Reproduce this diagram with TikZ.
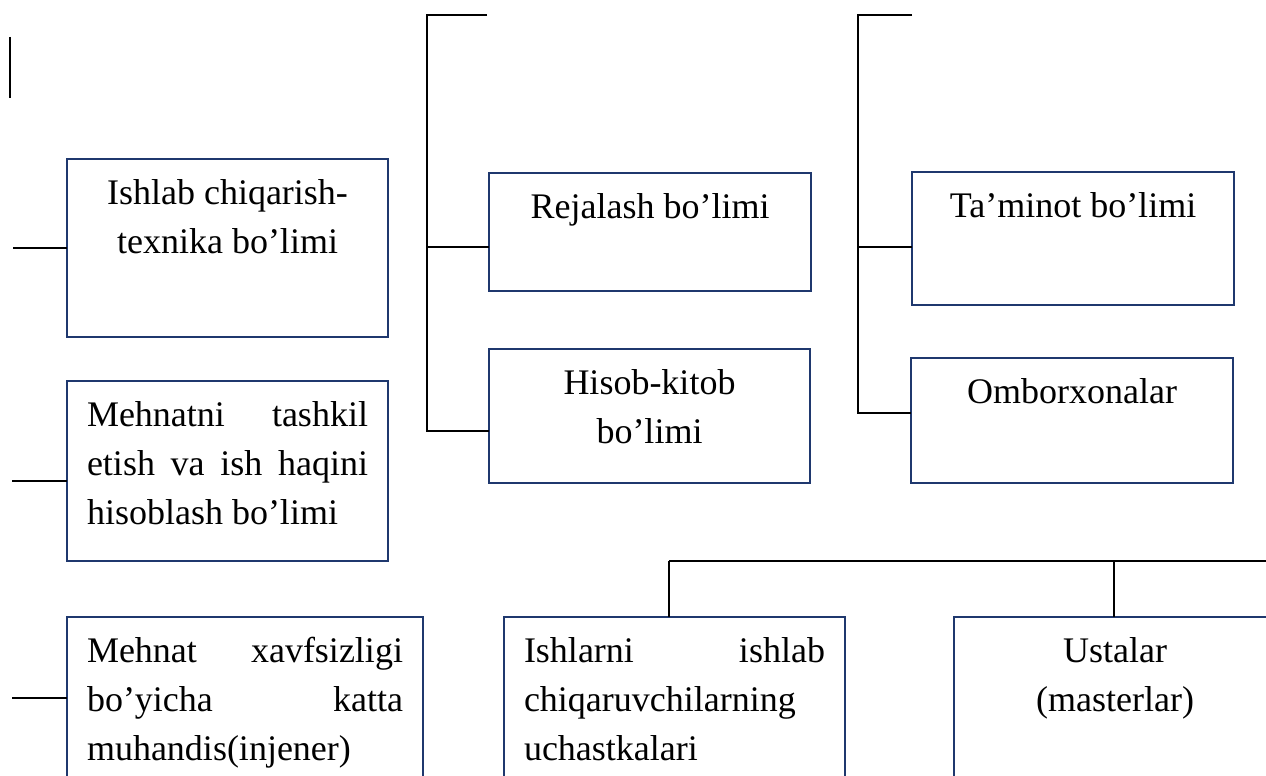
\documentclass[tikz,border=0pt]{standalone}
\usepackage{fontspec}
\setmainfont{Liberation Serif}
\definecolor{unitblue}{RGB}{31,56,110}
% box text: [alignment]{height}{width}{text}
\newcommand{\unittext}[4][\centering]{\parbox[t][#2][t]{#3}{#1\hyphenpenalty=10000 \rule{0pt}{45pt}#4}}
\tikzset{
	unit/.style={draw=unitblue, line width=1.4pt, anchor=north west, inner xsep=20pt, inner ysep=0pt, outer sep=0pt, font=\fontsize{36}{49}\selectfont},
	link/.style={draw=black, line width=1.5pt}
}
\begin{document}
\begin{tikzpicture}[x=1pt, y=-1pt]
	\useasboundingbox (0,0) rectangle (1266,776);
	\clip (0,0) rectangle (1266,776);
	% left column
	\node[unit] (prod) at (67,159) {\unittext{178pt}{281pt}{Ishlab chiqarish-\\texnika bo’limi}};
	\node[unit] (mehnat) at (67,381) {\unittext[]{180pt}{281pt}{Mehnatni tashkil\linebreak etish va ish haqini\linebreak hisoblash bo’limi}};
	\node[unit] (xavf) at (67,617) {\unittext[]{180pt}{316pt}{Mehnat xavfsizligi\linebreak bo’yicha katta\linebreak muhandis(injener)}};
	% middle column
	\node[unit] (reja) at (489,173) {\unittext{118pt}{282pt}{Rejalash bo’limi}};
	\node[unit] (hisob) at (489,349) {\unittext{134pt}{281pt}{Hisob-kitob\\bo’limi}};
	% right column
	\node[unit] (taminot) at (912,172) {\unittext{133pt}{282pt}{Ta’minot bo’limi}};
	\node[unit] (ombor) at (911,358) {\unittext{125pt}{282pt}{Omborxonalar}};
	% bottom row
	\node[unit] (uchast) at (504,617) {\unittext[]{180pt}{301pt}{Ishlarni ishlab\linebreak chiqaruvchilarning\\uchastkalari}};
	\node[unit] (usta) at (954,617) {\unittext{180pt}{282pt}{Ustalar\\(masterlar)}};
	% lone bar and left stubs
	\coordinate (barT) at (10,37);
	\coordinate (barB) at (10,98);
	\coordinate (lA) at (13,248);
	\coordinate (lB) at (12,481);
	\coordinate (lC) at (12,698);
	\draw[link] (barT) -- (barB);
	\draw[link] (lA) -- (prod.west);
	\draw[link] (lB) -- (lB -| mehnat.west);
	\draw[link] (lC) -- (lC -| xavf.west);
	% first bracket
	\coordinate (b1end) at (487,15);
	\coordinate (b1top) at (427,15);
	\coordinate (b1a) at (427,247);
	\coordinate (b1b) at (427,431);
	\draw[link] (b1end) -- (b1top) -- (b1b) -- (b1b -| hisob.west);
	\draw[link] (b1a) -- (b1a -| reja.west);
	% second bracket
	\coordinate (b2end) at (912,15);
	\coordinate (b2top) at (858,15);
	\coordinate (b2a) at (858,247);
	\coordinate (b2b) at (858,413);
	\draw[link] (b2end) -- (b2top) -- (b2b) -- (b2b -| ombor.west);
	\draw[link] (b2a) -- (b2a -| taminot.west);
	% bottom bus
	\coordinate (bus1) at (669,561);
	\coordinate (bus2) at (1114,561);
	\coordinate (busR) at (1270,561);
	\draw[link] (bus1) -- (busR);
	\draw[link] (bus1) -- (bus1 |- uchast.north);
	\draw[link] (bus2) -- (bus2 |- usta.north);
\end{tikzpicture}
\end{document}
